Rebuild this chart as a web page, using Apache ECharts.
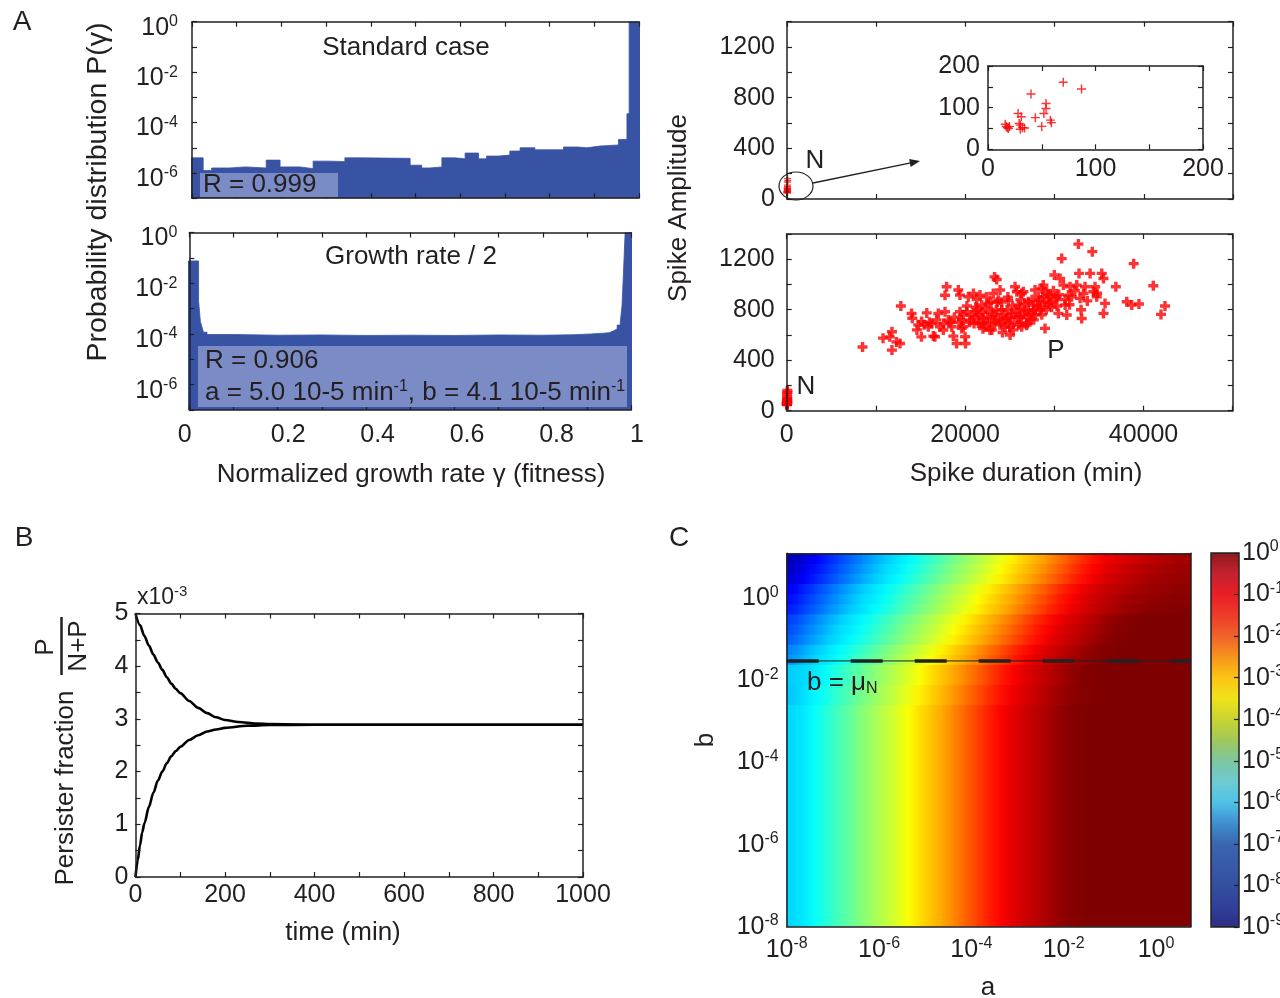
<!DOCTYPE html>
<html><head><meta charset="utf-8">
<script src="https://cdn.jsdelivr.net/npm/echarts@6/dist/echarts.min.js"></script>
<style>html,body{margin:0;padding:0;background:#fff}#c{width:1280px;height:998px}</style>
</head><body><div id="c"></div>
<script>
// ---------------- DATA ----------------
// Panel A, histogram "Standard case": left bin edges (fitness) and probabilities
const hist1Left = [-0.006,0.025,0.044,0.085,0.119,0.166,0.197,0.242,0.271,0.307,0.342,0.376,0.488,0.514,0.532,0.559,0.588,0.611,0.641,0.659,0.685,0.711,0.734,0.767,0.831,0.864,0.883,0.913,0.954,0.973,0.978];
const hist1Prob = [3.98e-6,1.26e-6,1.58e-6,1.74e-6,1.58e-6,3.24e-6,1.74e-6,1.48e-6,2.95e-6,2.82e-6,3.98e-6,3.8e-6,2.04e-6,1.58e-6,1.74e-6,3.98e-6,3.63e-6,6.17e-6,3.63e-6,4.68e-6,5.13e-6,7.41e-6,1.0e-5,8.32e-6,1.07e-5,1.0e-5,1.17e-5,1.29e-5,2.14e-5,2.24e-4,0.98];
const hist1End = 1.006;
// Panel A, histogram "Growth rate / 2"
const hist2Left = [-0.009,0.021,0.025,0.029,0.032,0.04,0.1,0.2,0.3,0.4,0.5,0.6,0.7,0.8,0.87,0.91,0.937,0.95,0.96,0.968,0.975,0.979,0.982,0.986];
const hist2Prob = [0.0759,0.002,3.16e-4,1.78e-4,1.17e-4,9.5e-5,8.9e-5,9.1e-5,8.7e-5,8.9e-5,8.7e-5,9.1e-5,8.9e-5,9.3e-5,1.0e-4,1.07e-4,1.12e-4,1.32e-4,1.58e-4,2.24e-4,2.82e-4,1.32e-3,0.0209,0.97];
const hist2End = 1.014;
const histLabelValues = [0,0.2,0.4,0.6,0.8,1];

// Panel A right: spikes [duration (min), amplitude]
const spikeN = [[16,60],[17,55],[18,52],[20,55],[19,50],[28,86],[29,62],[30,58],[31,78],[32,52],[34,51],[30,48],[40,133],[44,76],[50,55],[52,86],[54,98],[54,110],[58,70],[59,64],[70,161],[87,145]];
const spikeP = [[8500,505],[10800,575],[11800,625],[11550,585],[11800,480],[12300,545],[12700,533],[12800,830],[14000,770],[14080,732],[14600,640],[14750,680],[15100,585],[15130,706],[15700,775],[15880,665],[16250,690],[16440,591],[16620,586],[17000,770],[17180,665],[17560,639],[17750,915],[17930,982],[17750,784],[18120,718],[18500,665],[18680,591],[19050,533],[19240,956],[19430,916],[19430,784],[19620,718],[19800,665],[19620,652],[20050,533],[20000,586],[20180,784],[20370,903],[20550,718],[20930,929],[21110,744],[21300,797],[21480,692],[21670,916],[21860,837],[22040,731],[22230,665],[22600,850],[22790,639],[22980,784],[23160,929],[23300,1060],[23540,1040],[23350,718],[23730,876],[23920,956],[24100,797],[24480,665],[24660,731],[24850,876],[25040,599],[25230,771],[25600,982],[25790,943],[25970,837],[26160,744],[26350,929],[26530,943],[26350,665],[26720,797],[26900,678],[27090,863],[27470,771],[27650,837],[27840,956],[28210,903],[28400,797],[28590,969],[28770,995],[28960,652],[29150,943],[29330,850],[29520,903],[30000,1075],[30270,903],[30460,771],[30650,1048],[30830,1205],[31020,995],[31210,837],[31400,758],[31580,916],[31770,982],[31950,903],[32520,995],[32700,1320],[32770,1088],[32890,890],[33070,731],[33270,929],[33450,982],[34010,1088],[34260,1260],[34380,943],[34570,982],[34760,903],[35320,1088],[35510,771],[35690,850],[35510,1048],[36900,982],[38120,863],[38680,837],[38900,1165],[39490,845],[41100,990],[41960,763],[42410,830],
[20500,700],[20800,760],[21000,690],[21200,820],[21500,760],[21700,700],[21900,780],[22100,690],[22300,810],[22500,740],[22700,700],[22900,860],[23100,760],[23300,690],[23500,800],[23700,740],[23900,680],[24100,860],[24300,760],[24500,720],[24700,800],[24900,690],[25100,740],[25300,830],[25500,700],[25700,780],[25900,740],[26100,810],[26300,700],[26500,760],[26700,850],[26900,740],[27100,790],[27300,720],[27500,880],[27700,800],[27900,760],[28100,830],[28300,870],[28500,820],[28700,900],[28900,860],[29100,800],[29300,920],[29500,860],[29700,820],[29900,950],[30100,880],[30300,830],[30500,920],[22000,650],[23000,640],[24000,700],[25000,660],[26000,680],[27000,690],[24200,620],[25400,640],[23600,860],[24800,900],[26200,880],[22400,900],[21300,880],[20200,830],[19800,760],[19300,700],[18800,740],[18300,700],[17600,690],[16800,720],[16000,700],[15400,680],[33700,870],[34800,930],[31200,880],[32300,950],[33000,800],[31700,840],[27700,720],[28600,760]];

// Panel B: persister fraction (x10^-3) vs time (min)
const curveFromHigh = [[0,5.0],[10,4.78],[20,4.57],[30,4.39],[40,4.22],[50,4.07],[60,3.93],[70,3.79],[80,3.67],[90,3.57],[100,3.49],[120,3.34],[140,3.21],[160,3.11],[180,3.03],[200,2.98],[230,2.94],[270,2.91],[300,2.9],[400,2.89],[600,2.89],[800,2.89],[1000,2.89]];
const curveFromZero = [[0,0],[5,0.32],[10,0.6],[15,0.85],[20,1.02],[30,1.33],[40,1.6],[50,1.83],[60,2.0],[70,2.16],[80,2.29],[90,2.39],[100,2.47],[120,2.6],[140,2.69],[160,2.76],[180,2.8],[200,2.83],[250,2.87],[300,2.885],[400,2.89],[600,2.89],[800,2.89],[1000,2.89]];

// Panel C: log10 persister fraction; columns = a cells (1e-8 .. 10^0.75), rows = b cells bottom->top (1e-8 .. 10^1.1)
const heatRowLow = [-5.95,-5.8,-5.55,-5.3,-5.0,-4.75,-4.45,-4.2,-3.95,-3.7,-3.4,-3.1,-2.85,-2.6,-2.3,-2.0,-1.7,-1.4,-1.15,-0.9,-0.72,-0.55,-0.38,-0.2,-0.08,-0.02,0,0,0,0,0,0,0,0,0];
const heatRowsUpper = [
[-6.1,-5.88,-5.68,-5.43,-5.15,-4.88,-4.6,-4.33,-4.08,-3.83,-3.55,-3.25,-2.98,-2.73,-2.45,-2.15,-1.85,-1.55,-1.28,-1.03,-0.81,-0.64,-0.47,-0.29,-0.14,-0.05,-0.01,0,0,0,0,0,0,0,0],
[-6.1,-5.88,-5.68,-5.43,-5.15,-4.88,-4.6,-4.33,-4.08,-3.83,-3.55,-3.25,-2.98,-2.73,-2.45,-2.15,-1.85,-1.55,-1.28,-1.03,-0.81,-0.64,-0.47,-0.29,-0.14,-0.05,-0.01,0,0,0,0,0,0,0,0],
[-6.05,-5.95,-5.8,-5.55,-5.3,-5.0,-4.75,-4.45,-4.2,-3.95,-3.7,-3.4,-3.1,-2.85,-2.6,-2.3,-2.0,-1.7,-1.4,-1.15,-0.9,-0.72,-0.55,-0.38,-0.2,-0.08,-0.02,0,0,0,0,0,0,0,0],
[-6.05,-5.95,-5.8,-5.55,-5.3,-5.0,-4.75,-4.45,-4.2,-3.95,-3.7,-3.4,-3.1,-2.85,-2.6,-2.3,-2.0,-1.7,-1.4,-1.15,-0.9,-0.72,-0.55,-0.38,-0.2,-0.08,-0.02,0,0,0,0,0,0,0,0],
[-6.55,-6.25,-5.95,-5.8,-5.55,-5.3,-5.0,-4.75,-4.45,-4.2,-3.95,-3.7,-3.4,-3.1,-2.85,-2.6,-2.3,-2.0,-1.7,-1.4,-1.15,-0.9,-0.72,-0.55,-0.38,-0.2,-0.08,-0.02,0,0,0,0,0,0,0],
[-6.7,-6.4,-6.1,-5.88,-5.68,-5.43,-5.15,-4.88,-4.6,-4.33,-4.08,-3.83,-3.55,-3.25,-2.98,-2.73,-2.45,-2.15,-1.85,-1.55,-1.28,-1.03,-0.81,-0.64,-0.47,-0.29,-0.14,-0.05,-0.01,0,0,0,0,0,0],
[-7.0,-6.7,-6.4,-6.1,-5.88,-5.68,-5.43,-5.15,-4.88,-4.6,-4.33,-4.08,-3.83,-3.55,-3.25,-2.98,-2.73,-2.45,-2.15,-1.85,-1.55,-1.28,-1.03,-0.81,-0.64,-0.47,-0.29,-0.14,-0.05,-0.01,0,0,0,0,0],
[-7.15,-6.85,-6.55,-6.25,-5.95,-5.8,-5.55,-5.3,-5.0,-4.75,-4.45,-4.2,-3.95,-3.7,-3.4,-3.1,-2.85,-2.6,-2.3,-2.0,-1.7,-1.4,-1.15,-0.9,-0.72,-0.55,-0.38,-0.2,-0.08,-0.02,0,0,0,0,0],
[-7.3,-7.0,-6.7,-6.4,-6.1,-5.88,-5.68,-5.43,-5.15,-4.88,-4.6,-4.33,-4.08,-3.83,-3.55,-3.25,-2.98,-2.73,-2.45,-2.15,-1.85,-1.55,-1.28,-1.03,-0.81,-0.64,-0.47,-0.29,-0.14,-0.05,-0.01,0,0,0,0],
[-7.6,-7.3,-7.0,-6.7,-6.4,-6.1,-5.88,-5.68,-5.43,-5.15,-4.88,-4.6,-4.33,-4.08,-3.83,-3.55,-3.25,-2.98,-2.73,-2.45,-2.15,-1.85,-1.55,-1.28,-1.03,-0.81,-0.64,-0.48,-0.34,-0.24,-0.16,-0.1,-0.07,-0.05,-0.04],
[-7.75,-7.45,-7.15,-6.85,-6.55,-6.25,-5.95,-5.8,-5.55,-5.3,-5.0,-4.75,-4.45,-4.2,-3.95,-3.7,-3.4,-3.1,-2.85,-2.6,-2.3,-2.0,-1.7,-1.4,-1.15,-0.9,-0.72,-0.56,-0.42,-0.32,-0.24,-0.18,-0.13,-0.1,-0.08],
[-7.9,-7.6,-7.3,-7.0,-6.7,-6.4,-6.1,-5.88,-5.68,-5.43,-5.15,-4.88,-4.6,-4.33,-4.08,-3.83,-3.55,-3.25,-2.98,-2.73,-2.45,-2.15,-1.85,-1.55,-1.28,-1.03,-0.81,-0.66,-0.53,-0.42,-0.33,-0.26,-0.2,-0.16,-0.14],
[-8.2,-7.9,-7.6,-7.3,-7.0,-6.7,-6.4,-6.1,-5.88,-5.68,-5.43,-5.15,-4.88,-4.6,-4.33,-4.08,-3.83,-3.55,-3.25,-2.98,-2.73,-2.45,-2.15,-1.85,-1.55,-1.28,-1.03,-0.82,-0.68,-0.55,-0.44,-0.35,-0.28,-0.23,-0.2],
[-8.35,-8.05,-7.75,-7.45,-7.15,-6.85,-6.55,-6.25,-5.95,-5.8,-5.55,-5.3,-5.0,-4.75,-4.45,-4.2,-3.95,-3.7,-3.4,-3.1,-2.85,-2.6,-2.3,-2.0,-1.7,-1.4,-1.15,-0.92,-0.78,-0.65,-0.53,-0.43,-0.35,-0.29,-0.25],
[-8.5,-8.2,-7.9,-7.6,-7.3,-7.0,-6.7,-6.4,-6.1,-5.88,-5.68,-5.43,-5.15,-4.88,-4.6,-4.33,-4.08,-3.83,-3.55,-3.25,-2.98,-2.73,-2.45,-2.15,-1.85,-1.55,-1.28,-1.05,-0.9,-0.78,-0.66,-0.55,-0.46,-0.38,-0.32]
];
const heatLowRowCount = 22;
const muN = 0.03;           // b = mu_N line
const heatAExtent = [1e-8, 5.623];
const heatBExtent = [1e-8, 12.59];

// ---------------- STYLE ----------------
const FONT = '"Liberation Sans", Arial, Helvetica, sans-serif';
const INK = '#231f20';
const BLUE = '#3953a4';
const RED = '#ff0000';
const JET = ['#00007f','#0000ff','#007fff','#00ffff','#7fff7f','#ffff00','#ff7f00','#ff0000','#7f0000'];
const SOFT = ['#2d2e83','#31409a','#34509f','#375aa8','#3a66b0','#3f8fd0','#4fc3e8','#6fcad0','#7cc6a0','#a2c85a','#c8d430','#eee31a','#fcc514','#f7941d','#f0622a','#ed3c2a','#e91e26','#c42230','#8e1a1e'];
const PLUS_THIN = 'path://M4.2,0h1.6v4.2h4.2v1.6h-4.2v4.2h-1.6v-4.2h-4.2v-1.6h4.2z';
const PLUS_THICK = 'path://M3.3,0h3.4v3.3h3.3v3.4h-3.3v3.3h-3.4v-3.3h-3.3v-3.4h3.3z';
const VMIN = -9, VMAX = 0;

const logRich = {
  b: {fontSize: 25, lineHeight: 28, fontFamily: FONT, color: INK},
  s: {fontSize: 16, lineHeight: 12, verticalAlign: 'top', fontFamily: FONT, color: INK}
};
function logFmt(step) {
  return function (v) {
    const e = Math.log10(v), r = Math.round(e);
    if (Math.abs(e - r) > 1e-6 || r % step !== 0) return '';
    return '{b|10}{s|' + r + '}';
  };
}
const axLine = {show: true, onZero: false, lineStyle: {color: INK, width: 1.5}};
const noLine = {show: false, onZero: false};
function tk(show) { return {show: show, inside: true, length: 5, lineStyle: {color: INK, width: 1.2}}; }
function lab(o) { return Object.assign({show: true, color: INK, fontSize: 25, fontFamily: FONT, hideOverlap: false}, o); }
const noLab = {show: false};
function ax(o) {
  return Object.assign({type: 'value', splitLine: {show: false}, axisLine: axLine, axisTick: tk(true), axisLabel: noLab, z: 10}, o);
}

// ---------------- BUILD ----------------
const hist1Data = hist1Left.map((x, i) => [x, hist1Prob[i]]).concat([[hist1End, hist1Prob[hist1Prob.length - 1]]]);
const hist2Data = hist2Left.map((x, i) => [x, hist2Prob[i]]).concat([[hist2End, hist2Prob[hist2Prob.length - 1]]]);
const heatValues = Array(heatLowRowCount).fill(heatRowLow).concat(heatRowsUpper);
const heatCols = heatRowLow.map((_, k) => String(k));
const heatRows = heatValues.map((_, j) => String(j));
const heatData = [];
heatValues.forEach((row, j) => row.forEach((v, k) => heatData.push([k, j, v])));

function jetColor(v) {
  return echarts.color.lerp(Math.min(1, Math.max(0, (v - VMIN) / (VMAX - VMIN))), JET);
}
// shaded ("interp") cells: colour runs from this cell's centre to the next cell's centre
function renderHeat(params, api) {
  const k = api.value(0), j = api.value(1);
  const row = heatValues[j];
  const c = api.coord([k, j]);
  const s = api.size([1, 1]);
  const top = c[1] - s[1] / 2 - 0.5, h = s[1] + 1;
  const c0 = jetColor(row[k]);
  const children = [];
  if (k === 0) {
    children.push({type: 'rect', shape: {x: c[0] - s[0] / 2 - 0.5, y: top, width: s[0] / 2 + 1, height: h}, style: {fill: c0}});
  }
  if (k === row.length - 1) {
    children.push({type: 'rect', shape: {x: c[0] - 0.5, y: top, width: s[0] / 2 + 1, height: h}, style: {fill: c0}});
  } else {
    const c1 = jetColor(row[k + 1]);
    children.push({type: 'rect', shape: {x: c[0] - 0.5, y: top, width: s[0] + 1, height: h},
      style: {fill: new echarts.graphic.LinearGradient(0, 0, 1, 0, [{offset: 0, color: c0}, {offset: 1, color: c1}])}});
  }
  return {type: 'group', children: children};
}

const grids = [
  {left: 192, top: 21.7, width: 447, height: 176.5},
  {left: 189.3, top: 232.5, width: 442, height: 177.5},
  {left: 189, top: 410, width: 457, height: 1},
  {left: 787, top: 21.7, width: 446, height: 177.3},
  {left: 988, top: 66, width: 215, height: 83.3},
  {left: 786.7, top: 234, width: 446, height: 176.7},
  {left: 135.5, top: 613.5, width: 447.5, height: 263.5},
  {left: 786.7, top: 553.3, width: 404, height: 373.4},
  {left: 1211, top: 553, width: 28, height: 374, show: true, borderColor: INK, borderWidth: 1.5, backgroundColor: 'transparent', z: 10}
].map(g => Object.assign({containLabel: false, outerBoundsMode: 'none', show: false}, g));

const xAxes = [
  ax({gridIndex: 0, min: 0, max: 1, interval: 0.1, position: 'bottom'}),                      //0
  ax({gridIndex: 0, min: 0, max: 1, interval: 0.1, position: 'top'}),                         //1
  ax({gridIndex: 1, min: 0, max: 1, interval: 0.1, position: 'bottom'}),                      //2
  ax({gridIndex: 1, min: 0, max: 1, interval: 0.1, position: 'top'}),                         //3
  ax({gridIndex: 2, min: -0.0217, max: 1.0, position: 'bottom', axisLine: noLine, axisTick: {show: false},
      axisLabel: lab({margin: 12, customValues: histLabelValues,
        formatter: v => v === 0 ? '{z|0}' : (v === 1 ? '{o|1}' : v.toFixed(1)),
        rich: {z: {fontSize: 25, fontFamily: FONT, color: INK, padding: [0, 28, 0, 0]},
               o: {fontSize: 25, fontFamily: FONT, color: INK, padding: [0, 18, 0, 0]}}})}), //4
  ax({gridIndex: 3, min: 0, max: 50000, interval: 10000, position: 'bottom'}),                //5
  ax({gridIndex: 3, min: 0, max: 50000, interval: 10000, position: 'top'}),                   //6
  ax({gridIndex: 4, min: 0, max: 200, interval: 50, position: 'bottom',
      axisLabel: lab({margin: 7, formatter: v => v % 100 === 0 ? String(v) : ''})}),            //7
  ax({gridIndex: 4, min: 0, max: 200, interval: 50, position: 'top'}),                        //8
  ax({gridIndex: 5, min: 0, max: 50000, interval: 10000, position: 'bottom',
      axisLabel: lab({margin: 12, formatter: v => v % 20000 === 0 ? String(v) : ''})}),         //9
  ax({gridIndex: 5, min: 0, max: 50000, interval: 10000, position: 'top'}),                   //10
  ax({gridIndex: 6, min: 0, max: 1000, interval: 100, position: 'bottom',
      axisLabel: lab({margin: 6, formatter: v => v % 200 === 0 ? String(v) : ''})}),            //11
  ax({gridIndex: 6, min: 0, max: 1000, interval: 100, position: 'top'}),                      //12
  {type: 'category', gridIndex: 7, data: heatCols, position: 'top', axisLine: axLine, axisTick: {show: false}, axisLabel: noLab, splitLine: {show: false}, z: 10}, //13
  ax({type: 'log', logBase: 10, gridIndex: 7, min: heatAExtent[0], max: heatAExtent[1], interval: 2, position: 'bottom',
      axisTick: {show: false}, axisLabel: lab({margin: 9, formatter: logFmt(2), rich: logRich})}), //14
  {type: 'value', gridIndex: 8, show: false, min: 0, max: 1}                                  //15
];

const yAxes = [
  ax({type: 'log', logBase: 10, gridIndex: 0, min: 1e-7, max: 1, interval: 1, position: 'left',
      axisLabel: lab({margin: 14, padding: [12, 0, 0, 0], formatter: logFmt(2), rich: logRich})}), //0
  ax({type: 'log', logBase: 10, gridIndex: 1, min: 1e-7, max: 1, interval: 1, position: 'left',
      axisLabel: lab({margin: 12, padding: [12, 0, 0, 0], formatter: logFmt(2), rich: logRich})}), //1
  {type: 'value', gridIndex: 2, show: false, min: 0, max: 1},                                 //2
  ax({gridIndex: 3, min: 0, max: 1400, interval: 200, position: 'left',
      axisLabel: lab({margin: 12, formatter: v => v % 400 === 0 ? String(v) : ''})}),           //3
  ax({gridIndex: 3, min: 0, max: 1400, interval: 200, position: 'right'}),                    //4
  ax({gridIndex: 4, min: 0, max: 200, interval: 50, position: 'left',
      axisLabel: lab({margin: 8, formatter: v => v % 100 === 0 ? String(v) : ''})}),            //5
  ax({gridIndex: 4, min: 0, max: 200, interval: 50, position: 'right'}),                      //6
  ax({gridIndex: 5, min: 0, max: 1400, interval: 200, position: 'left',
      axisLabel: lab({margin: 12, formatter: v => v % 400 === 0 ? String(v) : ''})}),           //7
  ax({gridIndex: 5, min: 0, max: 1400, interval: 200, position: 'right'}),                    //8
  ax({gridIndex: 6, min: 0, max: 5, interval: 0.5, position: 'left',
      axisLabel: lab({margin: 7, formatter: v => Number.isInteger(v) ? String(v) : ''})}),      //9
  ax({gridIndex: 6, min: 0, max: 5, interval: 0.5, position: 'right'}),                       //10
  {type: 'category', gridIndex: 7, data: heatRows, position: 'right', axisLine: axLine, axisTick: {show: false}, axisLabel: noLab, splitLine: {show: false}, z: 10}, //11
  ax({type: 'log', logBase: 10, gridIndex: 7, min: heatBExtent[0], max: heatBExtent[1], interval: 2, position: 'left',
      axisTick: {show: false}, axisLabel: lab({margin: 8, formatter: logFmt(2), rich: logRich})}), //12
  ax({type: 'log', logBase: 10, gridIndex: 8, min: 1e-9, max: 1, interval: 1, position: 'right', axisLine: noLine,
      axisTick: {show: true, inside: true, length: 5, lineStyle: {color: INK, width: 1.2}},
      axisLabel: lab({margin: 3, formatter: logFmt(1), rich: logRich}), z: 12})                  //13
];

const series = [
  {type: 'line', xAxisIndex: 0, yAxisIndex: 0, data: hist1Data, step: 'end', symbol: 'none', clip: false,
   lineStyle: {color: BLUE, width: 0.8}, areaStyle: {color: BLUE, opacity: 1, origin: 'start'}},
  {type: 'line', xAxisIndex: 2, yAxisIndex: 1, data: hist2Data, step: 'end', symbol: 'none', clip: false,
   lineStyle: {color: BLUE, width: 0.8}, areaStyle: {color: BLUE, opacity: 1, origin: 'start'}},
  {type: 'scatter', xAxisIndex: 5, yAxisIndex: 3, data: spikeN, symbol: PLUS_THIN, symbolSize: 7, itemStyle: {color: RED}},
  {type: 'scatter', xAxisIndex: 7, yAxisIndex: 5, data: spikeN, symbol: PLUS_THIN, symbolSize: 9, itemStyle: {color: RED}},
  {type: 'scatter', xAxisIndex: 9, yAxisIndex: 7, data: spikeP, symbol: PLUS_THICK, symbolSize: 10, itemStyle: {color: RED}},
  {type: 'scatter', xAxisIndex: 9, yAxisIndex: 7, data: spikeN, symbol: PLUS_THICK, symbolSize: 10, itemStyle: {color: RED}},
  {type: 'line', xAxisIndex: 11, yAxisIndex: 9, data: curveFromHigh, symbol: 'none', smooth: 0.3, smoothMonotone: 'x',
   lineStyle: {color: '#000', width: 2.6}},
  {type: 'line', xAxisIndex: 11, yAxisIndex: 9, data: curveFromZero, symbol: 'none', smooth: 0.3, smoothMonotone: 'x',
   lineStyle: {color: '#000', width: 2.6}},
  {type: 'custom', xAxisIndex: 13, yAxisIndex: 11, data: heatData, renderItem: renderHeat, encode: {x: 0, y: 1}, clip: true, z: 2},
  {type: 'line', xAxisIndex: 14, yAxisIndex: 12, data: [[heatAExtent[0], muN], [heatAExtent[1], muN]], symbol: 'none',
   lineStyle: {color: '#222', width: 1}, z: 5},
  {type: 'line', xAxisIndex: 14, yAxisIndex: 12, data: [[heatAExtent[0], muN], [heatAExtent[1], muN]], symbol: 'none',
   lineStyle: {color: '#222', width: 3.5, type: [32, 32]}, z: 5}
];

function T(x, y, text, extra, rot) {
  const st = Object.assign({text: text, fontSize: 26, fontFamily: FONT, fill: INK,
    align: 'center', verticalAlign: 'middle', textAlign: 'center', textVerticalAlign: 'middle'}, extra || {});
  const el = {type: 'text', x: x, y: y, z: 100, style: st};
  if (rot) el.rotation = rot;
  return el;
}
const R90 = Math.PI / 2;
const m26 = {fontSize: 26, lineHeight: 28, fontFamily: FONT, fill: INK, color: INK};
const sup = {fontSize: 16, lineHeight: 12, verticalAlign: 'top', fontFamily: FONT, fill: INK, color: INK};
const sub = {fontSize: 16, lineHeight: 10, verticalAlign: 'bottom', fontFamily: FONT, fill: INK, color: INK};

const graphics = [
  T(22, 22, 'A', {fontSize: 28}),
  T(24, 538, 'B', {fontSize: 28}),
  T(679, 538, 'C', {fontSize: 28}),
  T(406, 48, 'Standard case'),
  T(411, 257, 'Growth rate / 2'),
  {type: 'rect', z: 90, shape: {x: 200, y: 173, width: 138, height: 24}, style: {fill: '#7b8bc6'}},
  {type: 'rect', z: 90, shape: {x: 198, y: 346, width: 429, height: 61}, style: {fill: '#7b8bc6'}},
  T(203, 185, 'R = 0.999', {align: 'left', textAlign: 'left'}),
  T(205, 361, 'R = 0.906', {align: 'left', textAlign: 'left'}),
  T(205, 393, '{m|a = 5.0 10-5 min}{s|-1}{m|, b = 4.1 10-5 min}{s|-1}', {align: 'left', textAlign: 'left', rich: {m: m26, s: sup}}),
  T(98, 192, 'Probability distribution P(\u03b3)', {fontSize: 28.5}, R90),
  T(411, 475, 'Normalized growth rate \u03b3 (fitness)'),
  T(679, 208, 'Spike Amplitude', {}, R90),
  T(1026, 474, 'Spike duration (min)'),
  T(815, 161, 'N'),
  T(806, 387, 'N'),
  T(1056, 351, 'P'),
  {type: 'ellipse', z: 100, shape: {cx: 796, cy: 186, rx: 17, ry: 14}, style: {fill: 'none', stroke: INK, lineWidth: 1.2}},
  {type: 'line', z: 100, shape: {x1: 813, y1: 183, x2: 912, y2: 162.7}, style: {stroke: INK, lineWidth: 1.3}},
  {type: 'polygon', z: 100, shape: {points: [[920, 161], [910.6, 166.9], [909.2, 159.1]]}, style: {fill: INK}},
  T(137, 598, '{m|x10}{s|-3}', {align: 'left', textAlign: 'left', rich: {m: Object.assign({}, m26, {fontSize: 23}), s: Object.assign({}, sup, {fontSize: 15})}}),
  T(343, 933, 'time (min)'),
  T(66, 788, 'Persister fraction', {}, R90),
  T(46, 647, 'P', {}, R90),
  {type: 'line', z: 100, shape: {x1: 61.5, y1: 617, x2: 61.5, y2: 675}, style: {stroke: INK, lineWidth: 2.5}},
  T(79, 646, 'N+P', {}, R90),
  T(807, 683, '{m|b = \u03bc}{u|N}', {align: 'left', textAlign: 'left', rich: {m: m26, u: sub}}),
  T(706, 740, 'b', {}, R90),
  T(988, 988, 'a')
];

const option = {
  animation: false,
  backgroundColor: '#ffffff',
  textStyle: {fontFamily: FONT},
  grid: grids,
  xAxis: xAxes,
  yAxis: yAxes,
  visualMap: [
    {type: 'continuous', show: true, seriesIndex: [], min: VMIN, max: VMAX, left: 1211, top: 553,
     itemWidth: 28, itemHeight: 374, padding: 0, calculable: false, inRange: {color: SOFT}}
  ],
  series: series,
  graphic: graphics
};

const chart = echarts.init(document.getElementById('c'), null, {renderer: 'canvas'});
chart.setOption(option);
</script></body></html>
